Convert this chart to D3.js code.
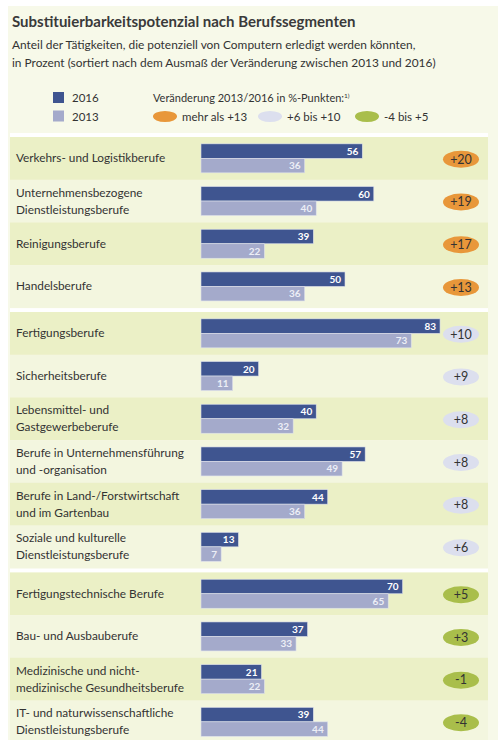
<!DOCTYPE html>
<html>
<head>
<meta charset="utf-8">
<script src="https://cdn.jsdelivr.net/npm/d3@7"></script>
<style>
  html, body { margin: 0; padding: 0; background: #fff; }
  svg { display: block; }
</style>
</head>
<body>
<div id="chart"></div>
<script>
// Berufssegmente, Werte in Prozent
const categories = [
    "Verkehrs- und Logistikberufe",
    "Unternehmensbezogene\nDienstleistungsberufe",
    "Reinigungsberufe",
    "Handelsberufe",
    "Fertigungsberufe",
    "Sicherheitsberufe",
    "Lebensmittel- und\nGastgewerbeberufe",
    "Berufe in Unternehmensführung\nund -organisation",
    "Berufe in Land-/Forstwirtschaft\nund im Gartenbau",
    "Soziale und kulturelle\nDienstleistungsberufe",
    "Fertigungstechnische Berufe",
    "Bau- und Ausbauberufe",
    "Medizinische und nicht-\nmedizinische Gesundheitsberufe",
    "IT- und naturwissenschaftliche\nDienstleistungsberufe"
];
const values2016 = [56, 60, 39, 50, 83, 20, 40, 57, 44, 13, 70, 37, 21, 39];
const values2013 = [36, 40, 22, 36, 73, 11, 32, 49, 36, 7, 65, 33, 22, 44];
const changeLabels = ["+20", "+19", "+17", "+13", "+10", "+9", "+8", "+8", "+8", "+6", "+5", "+3", "-1", "-4"];
const changeGroup = [0, 0, 0, 0, 1, 1, 1, 1, 1, 1, 2, 2, 2, 2];
const groupLabels = ["mehr als +13", "+6 bis +10", "-4 bis +5"];

const COLORS = {
    bar2016: "#3f5590",
    bar2013: "#a4aacb",
    groups: ["#e8973a", "#dcdfee", "#a9be4b"],
    rowDark: "#ebf0c6",
    rowLight: "#f3f6df",
    bg: "#f7f9e9",
    text: "#333333"
};

const width = 498, height = 740;
const font = "Lato, 'Open Sans', sans-serif";

const svg = d3.select("#chart").append("svg")
    .attr("width", width)
    .attr("height", height)
    .style("font-family", font);

// Hintergrund
svg.append("rect")
    .attr("x", 8).attr("y", 6)
    .attr("width", width - 8).attr("height", height - 6)
    .attr("fill", COLORS.bg);

svg.append("rect")
    .attr("x", 10).attr("y", 133)
    .attr("width", 478).attr("height", height - 133)
    .attr("fill", "#fff");

// Titel
svg.append("text")
    .attr("x", 12).attr("y", 27)
    .attr("font-size", "15px")
    .attr("font-weight", "bold")
    .attr("fill", "#3a3a3a")
    .text("Substituierbarkeitspotenzial nach Berufssegmenten");

const subtitle = [
    "Anteil der Tätigkeiten, die potenziell von Computern erledigt werden könnten,",
    "in Prozent (sortiert nach dem Ausmaß der Veränderung zwischen 2013 und 2016)"
];
svg.append("g").selectAll("text")
    .data(subtitle)
    .join("text")
    .attr("x", 12)
    .attr("y", (d, i) => 49 + i * 18)
    .attr("font-size", "11.9px")
    .attr("fill", COLORS.text)
    .text(d => d);

// Legende
const legend = svg.append("g");
[["2016", COLORS.bar2016], ["2013", COLORS.bar2013]].forEach(([label, color], i) => {
    legend.append("rect")
        .attr("x", 53).attr("y", 92 + i * 18.5)
        .attr("width", 11).attr("height", 11)
        .attr("fill", color);
    legend.append("text")
        .attr("x", 72).attr("y", 102 + i * 18.5)
        .attr("font-size", "11.5px")
        .attr("fill", COLORS.text)
        .text(label);
});

const legendTitle = legend.append("text")
    .attr("x", 153).attr("y", 102)
    .attr("font-size", "11px")
    .attr("fill", COLORS.text);
legendTitle.append("tspan").text("Veränderung 2013/2016 in %-Punkten:");
legendTitle.append("tspan")
    .attr("font-size", "6.5px")
    .attr("dy", -4)
    .text("1)");

const legendX = [165, 270, 367];
groupLabels.forEach((label, i) => {
    legend.append("ellipse")
        .attr("cx", legendX[i]).attr("cy", 116.5)
        .attr("rx", 12).attr("ry", 5.5)
        .attr("fill", COLORS.groups[i]);
    legend.append("text")
        .attr("x", legendX[i] + 17).attr("y", 120.5)
        .attr("font-size", "11.5px")
        .attr("fill", COLORS.text)
        .text(label);
});

// Skalen
const rowH = 42.7;
const groupGap = 4.2;
const rowTop = i => 137 + i * rowH + changeGroup[i] * groupGap;

const x = d3.scaleLinear()
    .domain([0, 100])
    .range([201, 489]);

const barH = 14.5;

const rows = svg.append("g").selectAll("g")
    .data(categories)
    .join("g")
    .attr("transform", (d, i) => `translate(0,${rowTop(i)})`);

// abwechselnde Zeilenfarbe innerhalb der Gruppe
rows.append("rect")
    .attr("x", 10).attr("width", 478)
    .attr("height", rowH + 0.3)
    .attr("fill", (d, i) => {
        const first = changeGroup.indexOf(changeGroup[i]);
        return (i - first) % 2 === 0 ? COLORS.rowDark : COLORS.rowLight;
    });

// Beschriftung links
rows.each(function(d) {
    const lines = d.split("\n");
    const g = d3.select(this);
    const mid = rowH / 2;
    lines.forEach((line, j) => {
        const offset = lines.length === 1 ? 0 : (j === 0 ? -8.5 : 8.5);
        g.append("text")
            .attr("x", 16)
            .attr("y", mid + offset + 4)
            .attr("font-size", "11.8px")
            .attr("fill", COLORS.text)
            .text(line);
    });
});

const barTop = (rowH - 2 * barH) / 2;

// Balken 2016
rows.append("rect")
    .attr("x", x(0))
    .attr("y", barTop)
    .attr("width", (d, i) => x(values2016[i]) - x(0))
    .attr("height", barH)
    .attr("fill", COLORS.bar2016)
    .attr("stroke", "#dfe2ec")
    .attr("stroke-width", 0.6);

// Balken 2013
rows.append("rect")
    .attr("x", x(0))
    .attr("y", barTop + barH)
    .attr("width", (d, i) => x(values2013[i]) - x(0))
    .attr("height", barH)
    .attr("fill", COLORS.bar2013)
    .attr("stroke", "#dfe2ec")
    .attr("stroke-width", 0.6);

rows.append("text")
    .attr("x", (d, i) => x(values2016[i]) - 4)
    .attr("y", barTop + barH - 3.5)
    .attr("text-anchor", "end")
    .attr("font-size", "10px")
    .attr("font-weight", "bold")
    .attr("fill", "#ffffff")
    .text((d, i) => values2016[i]);

rows.append("text")
    .attr("x", (d, i) => x(values2013[i]) - 4)
    .attr("y", barTop + 2 * barH - 3.5)
    .attr("text-anchor", "end")
    .attr("font-size", "10px")
    .attr("font-weight", "bold")
    .attr("fill", "#eceef6")
    .text((d, i) => values2013[i]);

// Veränderung
rows.append("ellipse")
    .attr("cx", 461)
    .attr("cy", rowH / 2 + 1)
    .attr("rx", 18)
    .attr("ry", 8.5)
    .attr("fill", (d, i) => COLORS.groups[changeGroup[i]]);

rows.append("text")
    .attr("x", 461)
    .attr("y", rowH / 2 + 5.3)
    .attr("text-anchor", "middle")
    .attr("font-size", "12.5px")
    .attr("fill", COLORS.text)
    .text((d, i) => changeLabels[i]);
</script>
</body>
</html>
